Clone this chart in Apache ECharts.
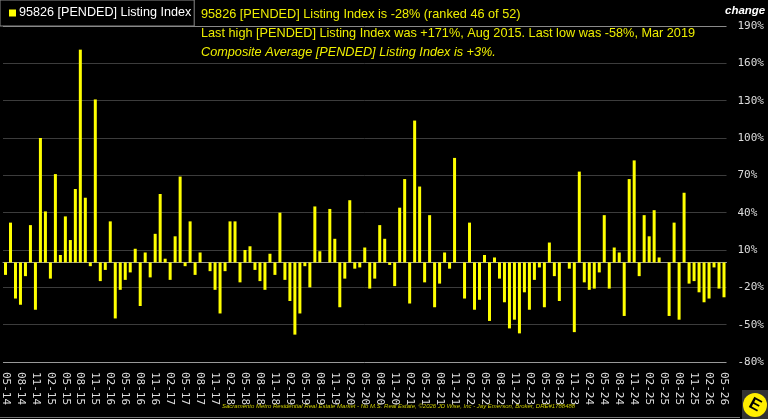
<!DOCTYPE html>
<html>
<head>
<meta charset="utf-8">
<style>
  html, body { margin: 0; padding: 0; background: #000; }
  #chart { width: 768px; height: 419px; }
</style>
<script src="https://cdn.jsdelivr.net/npm/echarts@6/dist/echarts.min.js"></script>
</head>
<body>
<div id="chart"></div>
<script>
// monthly categories 05-14 .. 05-26
var months = [];
for (var y = 2014; y <= 2026; y++) {
    for (var m = 1; m <= 12; m++) {
        if (y === 2014 && m < 5) continue;
        if (y === 2026 && m > 5) continue;
        months.push((m < 10 ? '0' + m : '' + m) + '-' + String(y).slice(2));
    }
}

// change in pended listing index, %
var changeValues = [
    -10, 32, -29, -34, -11, 30, -38, 100, 41, -13,
    71, 6, 37, 18, 59, 171, 52, -3, 131, -15,
    -6, 33, -45, -22, -14, -8, 11, -35, 8, -12,
    23, 55, 3, -14, 21, 69, -3, 33, -10, 8,
    0, -7, -22, -41, -7, 33, 33, -16, 10, 13,
    -6, -15, -22, 7, -10, 40, -14, -31, -58, -41,
    -3, -20, 45, 9, 0, 43, 19, -36, -13, 50,
    -5, -4, 12, -21, -13, 30, 19, -2, -19, 44,
    67, -33, 114, 61, -16, 38, -36, -17, 8, -5,
    84, 0, -29, 32, -38, -30, 6, -47, 4, -13,
    -32, -53, -46, -57, -24, -38, -14, -4, -36, 16,
    -11, -31, 0, -5, -56, 73, -16, -22, -21, -8,
    38, -21, 12, 8, -43, 67, 82, -11, 38, 21,
    42, 4, 0, -43, 32, -46, 56, -17, -15, -24,
    -32, -29, -4, -21, -28
];

var seriesName = '95826 [PENDED] Listing Index';
var headLines = [
    '95826 [PENDED] Listing Index is -28% (ranked 46 of 52)',
    'Last high [PENDED] Listing Index was +171%, Aug 2015. Last low was -58%, Mar 2019',
    'Composite Average [PENDED] Listing Index is +3%.'
];
var footer = 'Sacramento Metro Residential Real Estate Market - No M.S. Real Estate, \u00a92026 JD Wise, Inc - Jay Emerson, Broker, DRE#1788488';

var myChart = echarts.init(document.getElementById('chart'));

myChart.setOption({
    backgroundColor: '#000',
    animation: false,
    title: {
        left: 201,
        top: 5,
        padding: 0,
        text: '{a|' + headLines[0] + '}\n{a|' + headLines[1] + '}\n{b|' + headLines[2] + '}',
        textStyle: {
            fontWeight: 'normal',
            rich: {
                a: { color: '#eeee00', fontSize: 12.7, fontWeight: 'normal', fontFamily: 'Liberation Sans', lineHeight: 19 },
                b: { color: '#eeee00', fontSize: 12.7, fontWeight: 'normal', fontFamily: 'Liberation Sans', fontStyle: 'italic', lineHeight: 19 }
            }
        }
    },
    legend: {
        left: 0,
        top: 0,
        padding: [6, 3, 6, 9],
        backgroundColor: '#000',
        borderColor: '#888',
        borderWidth: 1,
        icon: 'rect',
        itemWidth: 7,
        itemHeight: 7,
        itemGap: 0,
        textStyle: { color: '#fff', fontSize: 12.6, fontFamily: 'Liberation Sans', lineHeight: 14, padding: [0, 0, 0, -2] },
        data: [seriesName]
    },
    grid: { left: 0, right: 41.5, top: 26, bottom: 57 },
    xAxis: {
        type: 'category',
        data: months,
        axisLine: { lineStyle: { color: '#999', width: 1 } },
        axisTick: { show: false },
        axisLabel: {
            interval: 2,
            rotate: -90,
            margin: 10,
            color: '#ddd',
            fontSize: 11,
            fontFamily: 'DejaVu Sans Mono'
        }
    },
    yAxis: {
        type: 'value',
        position: 'right',
        min: -80,
        max: 190,
        interval: 30,
        axisLine: { show: false },
        axisTick: { show: false },
        axisLabel: {
            margin: 11,
            color: '#ddd',
            fontSize: 11,
            fontFamily: 'DejaVu Sans Mono',
            formatter: '{value}%'
        },
        splitLine: {
            lineStyle: {
                color: ['#999', '#3c3c3c', '#3c3c3c', '#3c3c3c', '#3c3c3c', '#3c3c3c', '#3c3c3c', '#3c3c3c', '#3c3c3c', '#8a8a8a'],
                width: 1
            }
        }
    },
    series: [{
        name: seriesName,
        type: 'bar',
        data: changeValues,
        barWidth: 3,
        itemStyle: { color: '#ffff00' }
    }],
    graphic: [
        {
            type: 'text', left: 725, top: 5,
            style: { text: 'change', fill: '#fff', font: 'italic bold 11.5px "Liberation Sans"' }
        },
        {
            type: 'text', left: 222, top: 403,
            style: { text: footer, fill: '#cccc00', font: 'italic 6px "Liberation Sans"' }
        },
        {
            type: 'line',
            shape: { x1: 0, y1: 417.5, x2: 740, y2: 417.5 },
            style: { stroke: '#777', lineWidth: 1 }
        },
        {
            type: 'rect',
            shape: { x: 742, y: 390, width: 26, height: 29 },
            style: { fill: '#333' }
        },
        {
            type: 'circle',
            shape: { cx: 755, cy: 405, r: 12 },
            style: { fill: '#ffee00' }
        },
        {
            type: 'text', x: 755, y: 405, rotation: -0.5,
            style: { text: 'E', fill: '#000', font: 'bold 17px "Liberation Sans"', align: 'center', verticalAlign: 'middle' }
        }
    ]
});
</script>
</body>
</html>
